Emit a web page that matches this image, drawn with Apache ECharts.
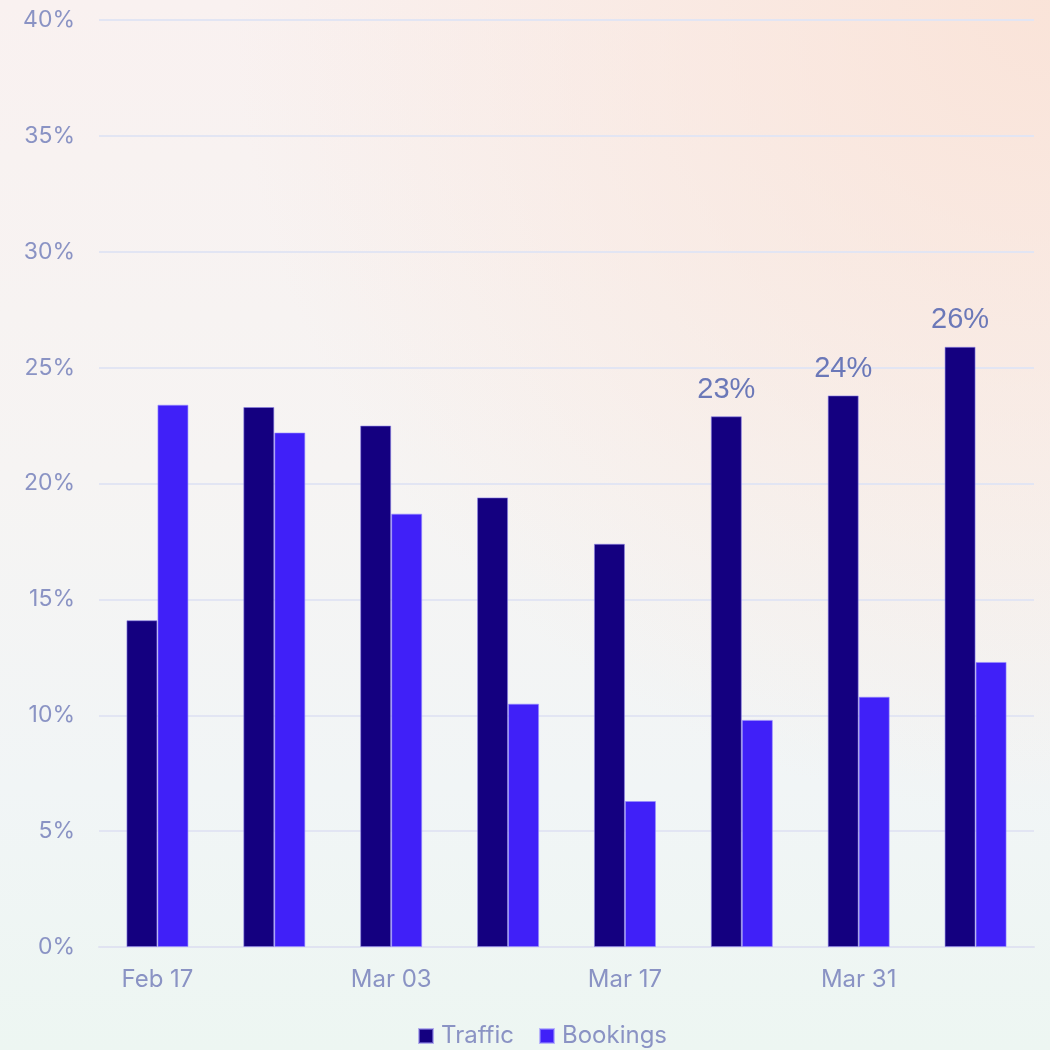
<!DOCTYPE html>
<html>
<head>
<meta charset="utf-8">
<script src="https://cdn.jsdelivr.net/npm/echarts@6/dist/echarts.min.js"></script>
<style>
html,body{margin:0;padding:0;}
#bg{position:absolute;left:0;top:0;width:1050px;height:1050px;
background:
 radial-gradient(ellipse at 100% 0%, rgba(250,226,214,0.9) 0%, rgba(250,226,214,0) 55%),
 linear-gradient(180deg, #f9f1f0 0%, #f6f4f3 45%, #f1f5f6 75%, #edf6f2 100%);}
#chart{position:absolute;left:0;top:0;width:1050px;height:1050px;}
</style>
</head>
<body>
<div id="bg"></div>
<div id="chart"></div>
<script>
const categories = ['Feb 17','Feb 24','Mar 03','Mar 10','Mar 17','Mar 24','Mar 31','Apr 07'];
const traffic = [14.1, 23.3, 22.5, 19.4, 17.4, 22.9, 23.8, 25.9];
const bookings = [23.4, 22.2, 18.7, 10.5, 6.3, 9.8, 10.8, 12.3];
const labeledIdx = [5, 6, 7];

const chart = echarts.init(document.getElementById('chart'), null, {renderer:'canvas'});
const trafficData = traffic.map((v,i)=> labeledIdx.includes(i) ? {value:v, label:{show:true}} : {value:v});
chart.setOption({
  backgroundColor:'transparent',
  textStyle:{fontFamily:'Inter'},
  grid:{left:99, right:16, top:20, bottom:103, containLabel:false},
  legend:{
    bottom:-3, left:418, itemWidth:14, itemHeight:14, itemGap:25,
    icon:'rect', padding:[5,0,5,0],
    textStyle:{color:'#8a93c4', fontSize:24, fontFamily:'Inter', padding:[0,0,0,3]},
    data:['Traffic','Bookings']
  },
  xAxis:{
    type:'category', data:categories,
    axisLine:{lineStyle:{color:'#e0e3f1', width:2}},
    axisTick:{show:false},
    axisLabel:{interval:1, color:'#8a93c4', fontSize:24, margin:21, fontFamily:'Inter'}
  },
  yAxis:{
    type:'value', min:0, max:40, interval:5,
    axisLabel:{formatter:'{value}%', color:'#8a93c4', fontSize:23, margin:24, fontFamily:'Inter'},
    splitLine:{lineStyle:{color:'#e2e5f3', width:2}},
    axisLine:{show:false}, axisTick:{show:false}
  },
  series:[
    {name:'Traffic', type:'bar', data:trafficData, barWidth:31, barGap:'0%',
     itemStyle:{color:'#140080', borderColor:'rgba(140,130,230,0.6)', borderWidth:1},
     label:{show:false, position:'top', distance:12, color:'#6b78b8', fontSize:29, fontFamily:'Liberation Sans',
       formatter:p=>Math.round(p.value)+'%'}},
    {name:'Bookings', type:'bar', data:bookings, barWidth:31, barGap:'0%',
     itemStyle:{color:'#4020f8', borderColor:'rgba(150,140,255,0.6)', borderWidth:1}}
  ]
});
</script>
</body>
</html>
